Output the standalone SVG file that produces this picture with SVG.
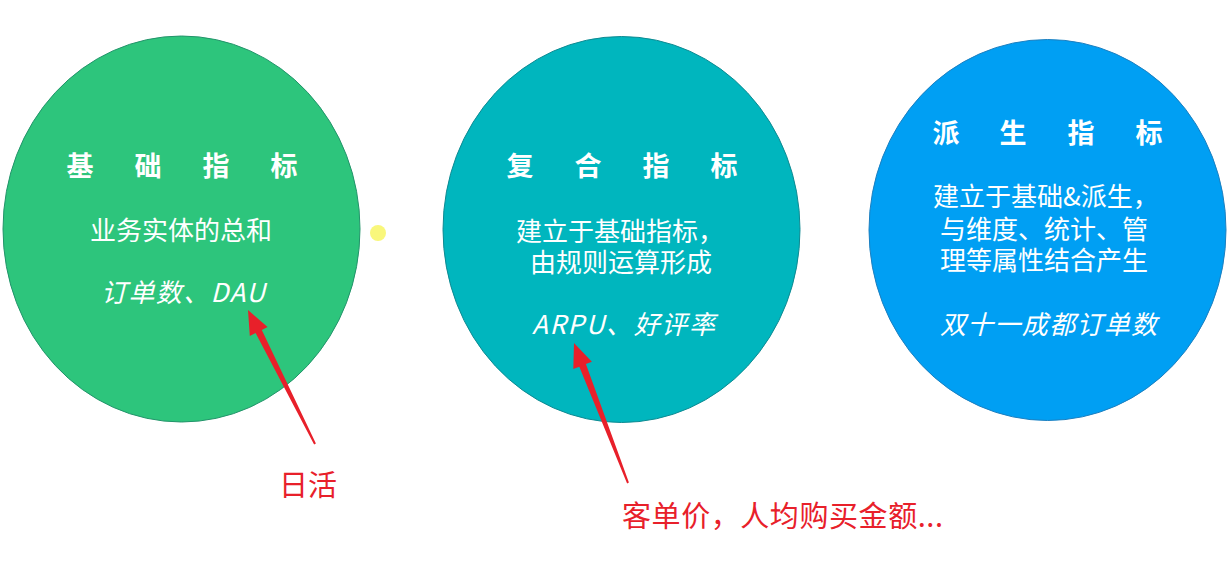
<svg xmlns="http://www.w3.org/2000/svg" width="1229" height="580" viewBox="0 0 1229 580">
<style>
.t{font-family:"Noto Sans CJK SC","Liberation Sans",sans-serif;fill:#ffffff}
.title{font-size:27px;font-weight:bold;text-anchor:middle}
.body{font-size:26px}
.ex{font-size:26px;font-style:italic}
.red{font-family:"Noto Sans CJK SC","Liberation Sans",sans-serif;fill:#E8202A;font-size:29px}
.arrow{fill:#E8202A}
</style>
<rect width="1229" height="580" fill="#ffffff"/>
<g id="node-basic">
<ellipse cx="181.5" cy="229" rx="178.5" ry="193" fill="#2DC57C" stroke="#22946A" stroke-width="1"/>
<text class="t title" y="176"><tspan x="80">基</tspan><tspan x="148">础</tspan><tspan x="216">指</tspan><tspan x="284">标</tspan></text>
<text class="t body" x="181" y="240" text-anchor="middle">业务实体的总和</text>
<text class="t ex" x="101" y="302" textLength="164" lengthAdjust="spacing">订单数、DAU</text>
</g>
<g id="dot">
<circle cx="378" cy="233" r="8" fill="#F9F77B"/>
</g>
<g id="node-composite">
<ellipse cx="621.5" cy="229.5" rx="178.5" ry="193" fill="#00B6BE" stroke="#0D8A92" stroke-width="1"/>
<text class="t title" y="176"><tspan x="520">复</tspan><tspan x="588">合</tspan><tspan x="656">指</tspan><tspan x="724">标</tspan></text>
<text class="t body" x="516" y="241">建立于基础指标，</text>
<text class="t body" x="530" y="272">由规则运算形成</text>
<text class="t ex" x="532" y="334" textLength="183" lengthAdjust="spacing">ARPU、好评率</text>
</g>
<g id="node-derived">
<ellipse cx="1047.5" cy="230" rx="178.5" ry="190.5" fill="#009FF3" stroke="#1C7FC0" stroke-width="1"/>
<text class="t title" y="143"><tspan x="946">派</tspan><tspan x="1013">生</tspan><tspan x="1081">指</tspan><tspan x="1149">标</tspan></text>
<text class="t body" x="933" y="206">建立于基础&amp;派生，</text>
<text class="t body" x="940" y="239">与维度、统计、管</text>
<text class="t body" x="940" y="270">理等属性结合产生</text>
<text class="t ex" x="940" y="334" textLength="217" lengthAdjust="spacing">双十一成都订单数</text>
</g>
<g id="connectors">
<polygon class="arrow" points="248,310 267.6,327 261.8,329.9 315.9,443.6 314.1,444.4 255.6,333.1 249.8,336"/>
<polygon class="arrow" points="574,343 591.9,361.8 585.9,364.1 628.9,482.6 627.1,483.4 579.3,366.7 573.3,369"/>
</g>
<g id="labels">
<text class="red" x="279" y="496">日活</text>
<text class="red" x="622" y="527" textLength="321" lengthAdjust="spacing">客单价，人均购买金额...</text>
</g>
</svg>
